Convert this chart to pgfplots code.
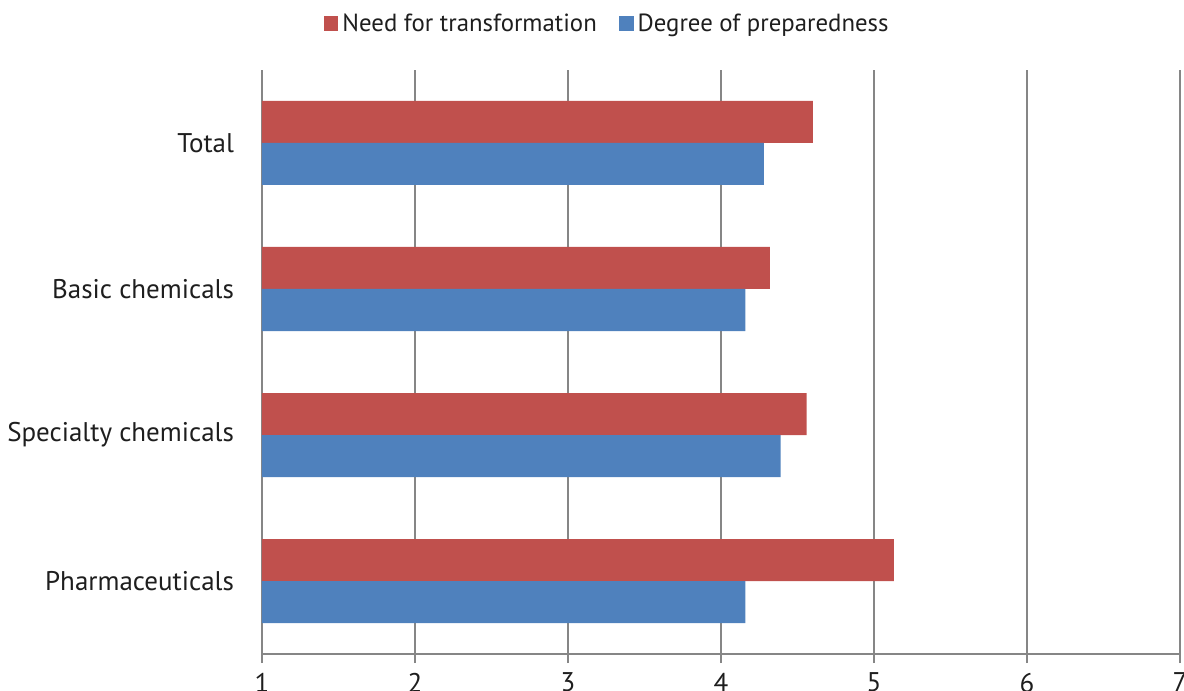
\documentclass[border=0pt]{standalone}
\usepackage{pgfplots}
\pgfplotsset{compat=1.18}
\usepackage{fontspec}
\setmainfont{PT Sans}
\definecolor{cred}{RGB}{192,80,77}
\definecolor{cblue}{RGB}{79,129,189}
\definecolor{cgrid}{RGB}{134,134,134}
\definecolor{ctext}{RGB}{30,30,30}
\begin{document}
\begin{tikzpicture}
\begin{axis}[
  at={(0pt,0pt)}, anchor=south west,
  width=459pt, height=292pt, scale only axis,
  xmin=1, xmax=7, ymin=-0.5, ymax=3.5,
  xtick={1,2,3,4,5,6,7},
  ytick={0,1,2,3},
  yticklabels={Pharmaceuticals,Specialty chemicals,Basic chemicals,Total},
  axis x line*=bottom, axis y line*=left,
  axis line style={cgrid, line width=0.8pt},
  xmajorgrids, major grid style={cgrid, line width=0.8pt},
  x tick style={cgrid, line width=0.8pt},
  tick align=outside, major tick length=4.5pt,
  y tick style={draw=none},
  xbar, bar width=21pt,
  /pgf/number format/assume math mode=true,
  tick label style={font=\fontsize{13.5}{15}\selectfont, text=ctext},
  yticklabel style={xshift=-6pt},
  xticklabel style={yshift=-1.5pt},
  legend style={at={(0.377,1.079)}, anchor=center, draw=none, fill=none,
    legend columns=2, font=\fontsize{12.4}{14}\selectfont, text=ctext,
    /tikz/every even column/.append style={column sep=9pt}},
  legend image code/.code={\fill[#1] (0pt,-3.7pt) rectangle (7.4pt,3.7pt);},
]
\addplot[fill=cred, draw=none, bar shift=10.5pt] coordinates {(5.13,0) (4.56,1) (4.32,2) (4.60,3)};
\addlegendentry{Need for transformation}
\addplot[fill=cblue, draw=none, bar shift=-10.5pt] coordinates {(4.16,0) (4.39,1) (4.16,2) (4.28,3)};
\addlegendentry{Degree of preparedness}
\end{axis}
\pgfresetboundingbox
\useasboundingbox (-131pt,-18.5pt) rectangle (461pt,327pt);
\end{tikzpicture}
\end{document}
